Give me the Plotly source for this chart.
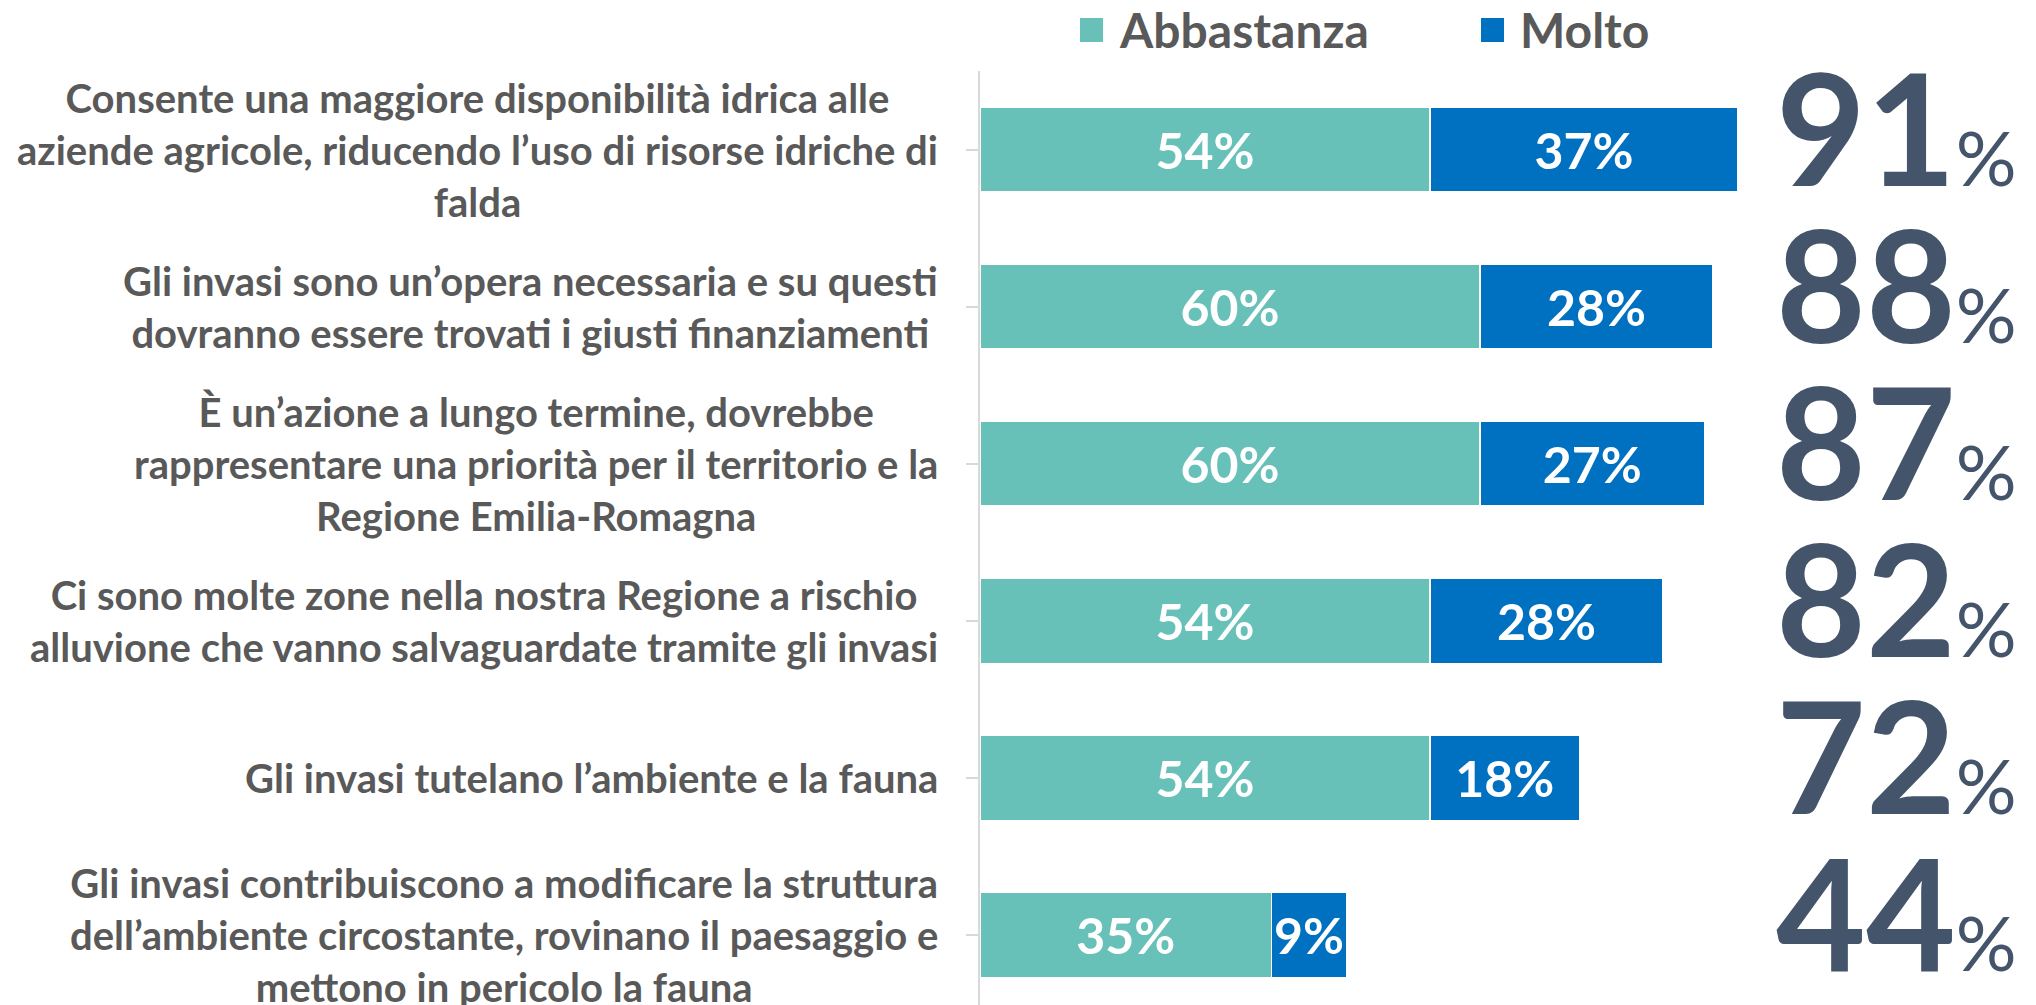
import plotly.graph_objects as go

# ---- data ----
categories = [
    "Consente una maggiore disponibilità idrica alle<br>aziende agricole, riducendo l’uso di risorse idriche di<br>falda",
    "Gli invasi sono un’opera necessaria e su questi<br>dovranno essere trovati i giusti finanziamenti",
    "È un’azione a lungo termine, dovrebbe<br>rappresentare una priorità per il territorio e la<br>Regione Emilia-Romagna",
    "Ci sono molte zone nella nostra Regione a rischio<br>alluvione che vanno salvaguardate tramite gli invasi",
    "Gli invasi tutelano l’ambiente e la fauna",
    "Gli invasi contribuiscono a modificare la struttura<br>dell’ambiente circostante, rovinano il paesaggio e<br>mettono in pericolo la fauna",
]
abbastanza = [54, 60, 60, 54, 54, 35]
molto = [37, 28, 27, 28, 18, 9]
totals = [a + m for a, m in zip(abbastanza, molto)]
series_names = ["Abbastanza", "Molto"]

# ---- style ----
W, H = 2036, 1005
TEAL = "#68C1B8"
BLUE = "#0070C0"
SLATE = "#44546A"
GREY = "#595959"
FONT = "Lato"
PX_PER_PCT = 8.33
X0 = 980
Y_TOP = 71
ROW = 157.1

cat_ids = list(range(len(categories)))

fig = go.Figure()
for name, vals, col in [(series_names[0], abbastanza, TEAL), (series_names[1], molto, BLUE)]:
    fig.add_trace(go.Bar(
        name=name, orientation="h", y=cat_ids, x=vals,
        marker=dict(color=col, line=dict(color="white", width=1.5)),
        text=[f"{v}%" for v in vals], textposition="inside",
        insidetextanchor="middle", textangle=0, constraintext="none",
        textfont=dict(family=FONT, size=50, color="white", weight="bold"),
        width=0.54, showlegend=False, hoverinfo="skip",
    ))

annotations = []
for i, (lab, tot) in enumerate(zip(categories, totals)):
    annotations.append(dict(
        xref="paper", yref="y", x=940 / W, y=i, xanchor="right", yanchor="middle",
        text=lab, align="center", showarrow=False,
        font=dict(family=FONT, size=40, color=GREY, weight="bold"),
    ))
    annotations.append(dict(
        xref="paper", yref="y", x=1774 / W, y=i, xanchor="left", yanchor="middle",
        yshift=24,
        text=f"<b>{tot}</b><span style='font-size:76px'>%</span>",
        showarrow=False,
        font=dict(family=FONT, size=155, color=SLATE),
    ))

# legend (custom)
shapes = []
for name, col, sx, tx in [(series_names[0], TEAL, 1080, 1117), (series_names[1], BLUE, 1481, 1518)]:
    shapes.append(dict(type="rect", xref="paper", yref="paper",
                       x0=sx / W, x1=(sx + 23) / W, y0=1 - 42 / H, y1=1 - 18 / H,
                       fillcolor=col, line=dict(width=0)))
    annotations.append(dict(
        xref="paper", yref="paper", x=tx / W, y=1 - 30 / H, xanchor="left", yanchor="middle",
        text=name, showarrow=False,
        font=dict(family=FONT, size=48, color=GREY, weight="bold"),
    ))

y_bottom = -0.5 + (H - Y_TOP) / ROW

fig.update_layout(
    width=W, height=H, margin=dict(l=0, r=0, t=0, b=0),
    paper_bgcolor="white", plot_bgcolor="white",
    barmode="stack",
    xaxis=dict(domain=[X0 / W, 1], range=[0, (W - X0) / PX_PER_PCT], visible=False),
    yaxis=dict(domain=[0, 1 - Y_TOP / H], range=[y_bottom, -0.5],
               tickmode="array", tickvals=cat_ids, showticklabels=False,
               showgrid=False, zeroline=False,
               showline=True, linecolor="#D9D9D9", linewidth=1.5,
               ticks="outside", ticklen=12, tickcolor="#D9D9D9", tickwidth=1.5,
               tickson="boundaries"),
    annotations=annotations, shapes=shapes,
    font=dict(family=FONT),
)

fig.write_html("out.html", config={"displayModeBar": False},
               post_script="document.body.style.margin='0';")
